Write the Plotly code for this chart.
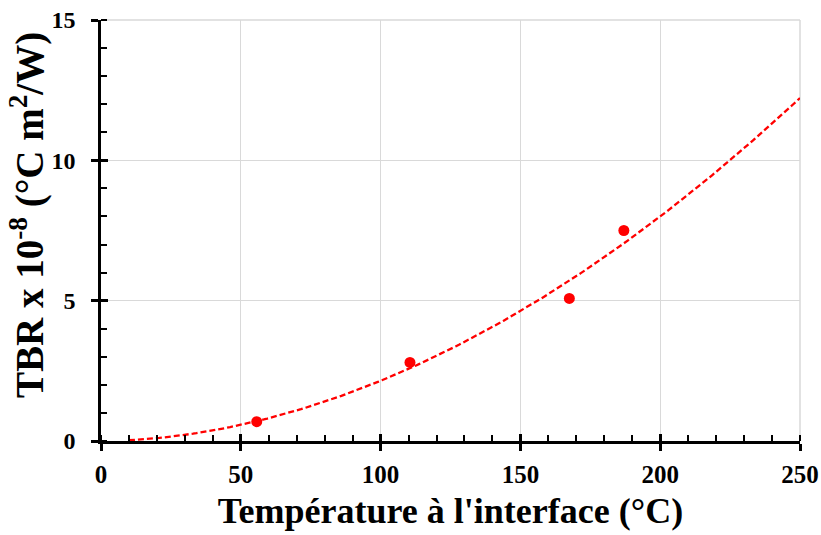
import numpy as np
import plotly.graph_objects as go

# Data
temperature_c = [55.7, 110.5, 167.5, 187.0]
tbr_e8 = [0.69, 2.80, 5.08, 7.50]
trend_start, trend_end = 10, 250

x_ticks = [0, 50, 100, 150, 200, 250]
y_ticks = [0, 5, 10, 15]

# Power-law trendline fitted (log-log least squares) to the data
b, ln_a = np.polyfit(np.log(temperature_c), np.log(tbr_e8), 1)
tx = np.linspace(trend_start, trend_end, 200)
ty = np.exp(ln_a) * tx ** b

FONT = "Liberation Serif"
W, H = 821, 535
L, R, T, B = 101, 21, 20, 94

fig = go.Figure()
fig.add_trace(go.Scatter(x=tx, y=ty, mode="lines",
                         line=dict(color="#ff0000", width=2.3, dash="6px,3px"),
                         showlegend=False, hoverinfo="skip"))
fig.add_trace(go.Scatter(x=temperature_c, y=tbr_e8, mode="markers",
                         marker=dict(color="#ff0000", size=11),
                         showlegend=False))
# invisible trace on overlay axes
fig.add_trace(go.Scatter(x=[0], y=[0], xaxis="x2", yaxis="y2", mode="markers",
                         marker=dict(opacity=0), showlegend=False, hoverinfo="skip"))

axis_common = dict(showline=True, linecolor="black", linewidth=2.5, automargin=False,
                   ticks="outside", tickwidth=2.5, ticklen=7, tickcolor="black",
                   gridcolor="#d9d9d9", gridwidth=1, zeroline=False,
                   ticklabeloverflow="allow")

pw, ph = W - L - R, H - T - B
ytitle_x = (27 - L) / pw
ytitle_y = (H - B - 215) / ph

fig.update_layout(
    width=W, height=H,
    margin=dict(l=L, r=R, t=T, b=B),
    plot_bgcolor="white", paper_bgcolor="white",
    xaxis=dict(range=[0, 250], tickvals=x_ticks, **axis_common,
               tickfont=dict(family=FONT, size=25, color="black", weight="bold"),
               ticklabelstandoff=2,
               minor=dict(dtick=10, ticks="inside", ticklen=6, tickwidth=2, tickcolor="black", showgrid=False),
               title=dict(text="<b>Température à l'interface (°C)</b>",
                          font=dict(family=FONT, size=36, color="black"), standoff=12)),
    yaxis=dict(range=[0, 15], tickvals=y_ticks, **axis_common,
               tickfont=dict(family=FONT, size=24, color="black", weight="bold"),
               ticklabelstandoff=11,
               minor=dict(dtick=1, ticks="inside", ticklen=6, tickwidth=2, tickcolor="black", showgrid=False)),
    xaxis2=dict(range=[0, 250], overlaying="x", anchor="y", side="bottom", automargin=False,
                tickvals=x_ticks, ticks="inside", ticklen=7, tickwidth=2.5, tickcolor="black",
                showticklabels=False, showgrid=False, zeroline=False, showline=False),
    yaxis2=dict(range=[0, 15], overlaying="y", anchor="x", side="left", automargin=False,
                tickvals=y_ticks, ticks="inside", ticklen=7, tickwidth=2.5, tickcolor="black",
                showticklabels=False, showgrid=False, zeroline=False, showline=False),
    annotations=[dict(text="<b>TBR x 10<sup>-8</sup> (°C m<sup>2</sup>/W)</b>",
                      xref="paper", yref="paper", x=ytitle_x, y=ytitle_y,
                      xanchor="center", yanchor="middle", textangle=-90, showarrow=False,
                      font=dict(family=FONT, size=39, color="black"))],
    shapes=[dict(type="line", xref="paper", yref="paper", x0=0, x1=1, y0=1, y1=1,
                 line=dict(color="#d9d9d9", width=1.5), layer="below"),
            dict(type="line", xref="paper", yref="paper", x0=1, x1=1, y0=0, y1=1,
                 line=dict(color="#d9d9d9", width=1.5), layer="below")],
)
fig.write_html("out.html", config={"displayModeBar": False},
               post_script="document.body.style.margin='0';document.body.style.overflow='hidden';")
